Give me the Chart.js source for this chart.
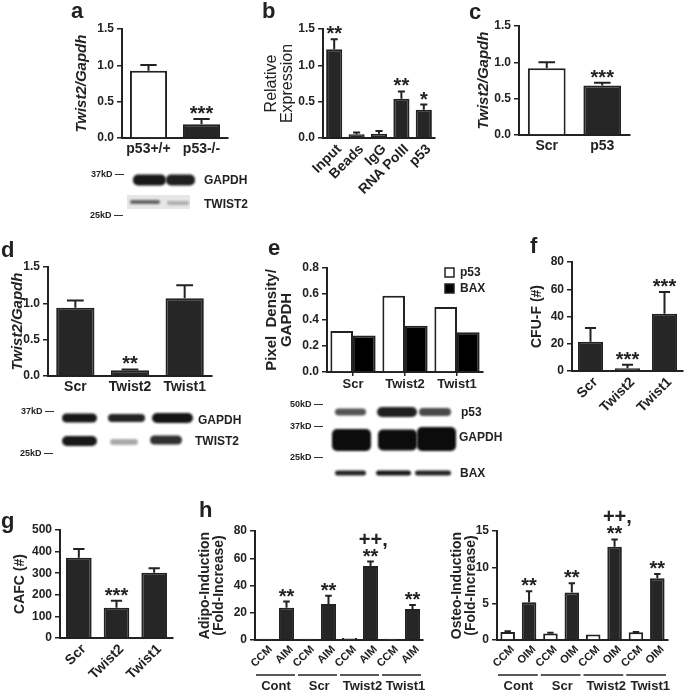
<!DOCTYPE html>
<html>
<head>
<meta charset="utf-8">
<script src="https://cdn.jsdelivr.net/npm/chart.js@4.4.0/dist/chart.umd.min.js"></script>
<style>
  body { margin:0; background:#fff; width:685px; height:692px; overflow:hidden; position:relative;
         font-family:"Liberation Sans", Arial, sans-serif; color:#222; }
  canvas { position:absolute; }
  .pl { position:absolute; font-weight:bold; font-size:22px; line-height:22px; }
  .bl { position:absolute; font-weight:bold; font-size:12px; line-height:12px; white-space:nowrap; }
  .kd { position:absolute; font-weight:bold; font-size:9px; line-height:9px; white-space:nowrap; }
</style>
</head>
<body>
<canvas id="blots" width="685" height="692" style="left:0;top:0"></canvas>
<canvas id="ca"></canvas><canvas id="cb"></canvas><canvas id="cc"></canvas>
<canvas id="cd"></canvas><canvas id="ce"></canvas><canvas id="cf"></canvas>
<canvas id="cg"></canvas><canvas id="ch1"></canvas><canvas id="ch2"></canvas>

<div class="pl" style="left:71px;top:0px">a</div>
<div class="pl" style="left:262px;top:0px">b</div>
<div class="pl" style="left:469px;top:1px">c</div>
<div class="pl" style="left:1px;top:239px">d</div>
<div class="pl" style="left:268px;top:237px">e</div>
<div class="pl" style="left:530px;top:235px">f</div>
<div class="pl" style="left:1px;top:510px">g</div>
<div class="pl" style="left:199px;top:499px">h</div>

<!-- blot labels -->
<div class="kd" style="left:91px;top:170px">37kD —</div>
<div class="kd" style="left:90px;top:211px">25kD —</div>
<div class="bl" style="left:204px;top:174px">GAPDH</div>
<div class="bl" style="left:204px;top:198px">TWIST2</div>

<div class="kd" style="left:21px;top:407px">37kD —</div>
<div class="kd" style="left:20px;top:449px">25kD —</div>
<div class="bl" style="left:198px;top:414px">GAPDH</div>
<div class="bl" style="left:195px;top:435px">TWIST2</div>

<div class="kd" style="left:290px;top:400px">50kD —</div>
<div class="kd" style="left:290px;top:422px">37kD —</div>
<div class="kd" style="left:290px;top:453px">25kD —</div>
<div class="bl" style="left:461px;top:406px">p53</div>
<div class="bl" style="left:459px;top:431px">GAPDH</div>
<div class="bl" style="left:460px;top:467px">BAX</div>

<script>
// ---- data ----
const aCats = ['p53+/+', 'p53-/-'];
const aVals = [0.925, 0.19];
const aErr  = [0.08, 0.07];
const aSig  = ['', '***'];

const bCats = ['Input', 'Beads', 'IgG', 'RNA PolII', 'p53'];
const bVals = [1.22, 0.05, 0.06, 0.54, 0.39];
const bErr  = [0.14, 0.025, 0.035, 0.10, 0.07];
const bSig  = ['**', '', '', '**', '*'];

const cCats = ['Scr', 'p53'];
const cVals = [0.92, 0.68];
const cErr  = [0.08, 0.04];
const cSig  = ['', '***'];

const dCats = ['Scr', 'Twist2', 'Twist1'];
const dVals = [0.94, 0.08, 1.07];
const dErr  = [0.10, 0.01, 0.18];
const dSig  = ['', '**', ''];

const eCats = ['Scr', 'Twist2', 'Twist1'];
const eP53  = [0.315, 0.587, 0.50];
const eBax  = [0.28, 0.356, 0.305];

const fCats = ['Scr', 'Twist2', 'Twist1'];
const fVals = [21.5, 2, 42];
const fErr  = [10, 2.5, 16];
const fSig  = ['', '***', '***'];

const gCats = ['Scr', 'Twist2', 'Twist1'];
const gVals = [372, 140, 302];
const gErr  = [40, 33, 21];
const gSig  = ['', '***', ''];

const hGroups = ['Cont', 'Scr', 'Twist2', 'Twist1'];
const hAdipoCats = ['CCM', 'AIM', 'CCM', 'AIM', 'CCM', 'AIM', 'CCM', 'AIM'];
const hAdipoVals = [1, 23.7, 1, 26.4, 1.5, 54.3, 1, 22.7];
const hAdipoErr  = [0, 4.5, 0, 6, 0, 3.3, 0, 3];
const hAdipoSig  = ['', '**', '', '**', '', ['++,', '**'], '', '**'];

const hOsteoCats = ['CCM', 'OIM', 'CCM', 'OIM', 'CCM', 'OIM', 'CCM', 'OIM'];
const hOsteoVals = [1.1, 5.2, 0.9, 6.55, 0.75, 12.84, 1.05, 8.49];
const hOsteoErr  = [0.1, 1.5, 0.1, 1.25, 0, 1.0, 0.05, 0.6];
const hOsteoSig  = ['', '**', '', '**', '', ['++,', '**'], '', '**'];

// ---- style ----
const FONT = '"Liberation Sans", Arial, sans-serif';
const INK = '#222';
const DARK = '#262626';

// error bars + significance marks
const marks = {
  id: 'marks',
  afterDatasetsDraw(chart) {
    const ctx = chart.ctx, ys = chart.scales.y;
    chart.data.datasets.forEach((ds, di) => {
      const meta = chart.getDatasetMeta(di);
      meta.data.forEach((bar, i) => {
        const v = ds.data[i];
        const e = ds.err ? ds.err[i] : 0;
        const top = ys.getPixelForValue(v + e);
        ctx.save();
        if (e) {
          const cw = bar.width * 0.22;
          ctx.strokeStyle = INK;
          ctx.lineWidth = 2;
          ctx.beginPath();
          ctx.moveTo(bar.x, bar.y);
          ctx.lineTo(bar.x, top);
          ctx.moveTo(bar.x - cw, top);
          ctx.lineTo(bar.x + cw, top);
          ctx.stroke();
        }
        const s = ds.sig ? ds.sig[i] : '';
        if (s) {
          const lines = Array.isArray(s) ? s : [s];
          ctx.font = 'bold 20px ' + FONT;
          ctx.textAlign = 'center';
          ctx.textBaseline = 'alphabetic';
          ctx.fillStyle = INK;
          let y = top + 1;
          for (let k = lines.length - 1; k >= 0; k--) {
            let x = bar.x;
            if (lines[k].endsWith(',')) x += ctx.measureText(',').width / 2;
            ctx.fillText(lines[k], x, y);
            y -= 17;
          }
        }
        ctx.restore();
      });
    });
  }
};

// small box legend inside the plot (panel e)
const boxLegend = {
  id: 'boxLegend',
  afterDraw(chart, args, o) {
    if (!o.show) return;
    const ctx = chart.ctx, a = chart.chartArea;
    chart.data.datasets.forEach((ds, i) => {
      const x = a.right - 38, y = a.top + i * 16;
      ctx.save();
      ctx.fillStyle = ds.backgroundColor;
      ctx.fillRect(x, y, 9, 9);
      ctx.strokeStyle = INK;
      ctx.lineWidth = 1.5;
      ctx.strokeRect(x, y, 9, 9);
      ctx.font = 'bold 12px ' + FONT;
      ctx.textAlign = 'left';
      ctx.textBaseline = 'middle';
      ctx.fillStyle = INK;
      ctx.fillText(ds.label, x + 15, y + 5);
      ctx.restore();
    });
  }
};

// group underline + labels under the paired bars (panel h)
const groupAxis = {
  id: 'groupAxis',
  afterDraw(chart, args, o) {
    if (!o.groups) return;
    const xs = chart.scales.x, ctx = chart.ctx;
    const slot = xs.width / chart.data.labels.length;
    o.groups.forEach((g, i) => {
      const c0 = xs.getPixelForTick(2 * i), c1 = xs.getPixelForTick(2 * i + 1);
      ctx.save();
      ctx.strokeStyle = INK;
      ctx.lineWidth = 1.5;
      ctx.beginPath();
      ctx.moveTo(c0 - slot / 2 + 1, o.lineY);
      ctx.lineTo(c1 + slot / 2 - 2, o.lineY);
      ctx.stroke();
      ctx.font = 'bold 13px ' + FONT;
      ctx.textAlign = 'center';
      ctx.textBaseline = 'alphabetic';
      ctx.fillStyle = INK;
      ctx.fillText(g, (c0 + c1) / 2 + i * 1.2, o.textY);
      ctx.restore();
    });
  }
};

function barChart(id, box, cfg) {
  const cv = document.getElementById(id);
  const pt = 30, pr = 6;
  const L = box.x0 - box.yW, T = box.y0 - pt;
  const W = box.x1 + pr - L, H = box.y1 + box.xH - T;
  cv.style.left = L + 'px';
  cv.style.top = T + 'px';
  cv.style.width = W + 'px';
  cv.style.height = H + 'px';
  cv.width = W;
  cv.height = H;

  const tf = cfg.titleFont;
  const lh = tf.size * tf.lineHeight;
  const rot = cfg.rotate ? 45 : 0;

  const plug = { legend: { display: false }, tooltip: { enabled: false },
                 boxLegend: { show: !!cfg.legend } };
  if (cfg.groups) {
    plug.groupAxis = { groups: cfg.groups, lineY: cfg.groupLineY - T, textY: cfg.groupTextY - T };
  }

  return new Chart(cv, {
    type: 'bar',
    data: { labels: cfg.labels, datasets: cfg.datasets },
    options: {
      responsive: false,
      animation: false,
      devicePixelRatio: 1,
      layout: { padding: { top: pt, right: pr, left: 0, bottom: 0 } },
      plugins: plug,
      scales: {
        x: {
          grid: { display: true, drawOnChartArea: false, drawTicks: !!cfg.xTicks, tickLength: 4,
                  color: INK, lineWidth: 1.5, offset: false },
          border: { display: true, color: INK, width: 2 },
          ticks: {
            font: { family: FONT, size: cfg.xFont || 14, weight: 'bold' },
            color: INK, autoSkip: false, maxRotation: rot, minRotation: rot,
            padding: cfg.xPad != null ? cfg.xPad : 3,
            labelOffset: cfg.rotate ? 5 : 0
          },
          afterFit(s) { s.height = box.xH; }
        },
        y: {
          min: 0, max: cfg.max,
          grid: { display: true, drawOnChartArea: false, drawTicks: true, tickLength: 5,
                  color: INK, lineWidth: 1.5 },
          border: { display: true, color: INK, width: 2 },
          ticks: {
            stepSize: cfg.step, padding: 3, color: INK,
            font: { family: FONT, size: 12, weight: 'bold' },
            callback: v => v.toFixed(cfg.dec || 0)
          },
          title: {
            display: true, text: cfg.title, color: INK, font: tf,
            padding: { top: box.titleX - L - lh / 2, bottom: 0 }
          },
          afterFit(s) { s.width = box.yW; }
        }
      }
    },
    plugins: [marks, boxLegend, groupAxis]
  });
}

function ds(vals, err, sig, colors, extra) {
  return Object.assign({
    data: vals, err: err, sig: sig,
    backgroundColor: colors, borderColor: INK, borderWidth: 2, borderSkipped: 'bottom',
    barPercentage: 0.7, categoryPercentage: 1.0
  }, extra || {});
}

const italicTitle = { family: FONT, size: 15, weight: 'bold', style: 'italic', lineHeight: 1.15 };

// a
barChart('ca', { x0: 122, x1: 228, y0: 29, y1: 138, yW: 55, xH: 30, titleX: 82 }, {
  labels: aCats, max: 1.5, step: 0.5, dec: 1, title: 'Twist2/Gapdh', titleFont: italicTitle,
  datasets: [ds(aVals, aErr, aSig, ['#fff', DARK], { barPercentage: 0.7 })]
});

// b
barChart('cb', { x0: 323, x1: 435, y0: 29, y1: 138, yW: 60, xH: 75, titleX: 272 }, {
  labels: bCats, max: 1.5, step: 0.5, dec: 1, rotate: true, xFont: 14,
  title: ['Relative', 'Expression'],
  titleFont: { family: FONT, size: 16, weight: 'normal', lineHeight: 1.0 },
  datasets: [ds(bVals, bErr, bSig, DARK, { barPercentage: 0.72 })]
});

// c
barChart('cc', { x0: 519, x1: 630, y0: 26, y1: 135, yW: 45, xH: 30, titleX: 484 }, {
  labels: cCats, max: 1.5, step: 0.5, dec: 1, title: 'Twist2/Gapdh', titleFont: italicTitle,
  datasets: [ds(cVals, cErr, cSig, ['#fff', DARK], { barPercentage: 0.68 })]
});

// d
barChart('cd', { x0: 48, x1: 212, y0: 267, y1: 376, yW: 44, xH: 30, titleX: 18 }, {
  labels: dCats, max: 1.5, step: 0.5, dec: 1, title: 'Twist2/Gapdh', titleFont: italicTitle,
  datasets: [ds(dVals, dErr, dSig, DARK, { barPercentage: 0.7 })]
});

// e
barChart('ce', { x0: 327, x1: 483, y0: 268, y1: 372, yW: 72, xH: 25, titleX: 272 }, {
  labels: eCats, max: 0.8, step: 0.2, dec: 1, xTicks: true, xFont: 13, xPad: 1, legend: true,
  title: ['Pixel  Density/', 'GAPDH'],
  titleFont: { family: FONT, size: 15, weight: 'bold', lineHeight: 1.0 },
  datasets: [
    ds(eP53, null, null, '#fff', { label: 'p53', barPercentage: 1.0, categoryPercentage: 0.87 }),
    ds(eBax, null, null, '#000', { label: 'BAX', barPercentage: 1.0, categoryPercentage: 0.87 })
  ]
});

// f
barChart('cf', { x0: 572, x1: 683, y0: 262, y1: 371, yW: 45, xH: 60, titleX: 537 }, {
  labels: fCats, max: 80, step: 20, rotate: true, xFont: 14, title: 'CFU-F (#)',
  titleFont: { family: FONT, size: 14, weight: 'bold', lineHeight: 1.15 },
  datasets: [ds(fVals, fErr, fSig, DARK, { barPercentage: 0.68 })]
});

// g
barChart('cg', { x0: 60, x1: 173, y0: 530, y1: 638, yW: 50, xH: 54, titleX: 20 }, {
  labels: gCats, max: 500, step: 100, rotate: true, xFont: 14, title: 'CAFC (#)',
  titleFont: { family: FONT, size: 14, weight: 'bold', lineHeight: 1.15 },
  datasets: [ds(gVals, gErr, gSig, DARK, { barPercentage: 0.68 })]
});

// h (adipo)
barChart('ch1', { x0: 255, x1: 423, y0: 531, y1: 640, yW: 58, xH: 52, titleX: 205 }, {
  labels: hAdipoCats, max: 80, step: 20, rotate: true, xFont: 11,
  title: ['Adipo-Induction', '(Fold-Increase)'],
  titleFont: { family: FONT, size: 14, weight: 'bold', lineHeight: 1.0 },
  groups: hGroups, groupLineY: 675, groupTextY: 690,
  datasets: [ds(hAdipoVals, hAdipoErr, hAdipoSig,
                hAdipoCats.map(c => c === 'CCM' ? '#fff' : DARK), { barPercentage: 0.72 })]
});

// h (osteo)
barChart('ch2', { x0: 497, x1: 668, y0: 531, y1: 640, yW: 50, xH: 52, titleX: 457 }, {
  labels: hOsteoCats, max: 15, step: 5, rotate: true, xFont: 11,
  title: ['Osteo-Induction', '(Fold-Increase)'],
  titleFont: { family: FONT, size: 14, weight: 'bold', lineHeight: 1.0 },
  groups: hGroups, groupLineY: 675, groupTextY: 690,
  datasets: [ds(hOsteoVals, hOsteoErr, hOsteoSig,
                hOsteoCats.map(c => c === 'CCM' ? '#fff' : DARK), { barPercentage: 0.68 })]
});

// ---- western blot images (decoration, not chart data) ----
(function drawBlots() {
  const ctx = document.getElementById('blots').getContext('2d');
  function band(x0, x1, yc, h, dark) {
    ctx.save();
    ctx.filter = 'blur(1.3px)';
    ctx.fillStyle = 'rgba(12,12,12,' + dark + ')';
    ctx.beginPath();
    ctx.roundRect(x0, yc - h / 2, x1 - x0, h, Math.min(h / 2, 5));
    ctx.fill();
    ctx.restore();
  }
  // a
  ctx.fillStyle = '#e6e6e6';
  ctx.fillRect(127, 195, 63, 14);
  band(133, 166, 180, 11, 0.95);
  band(166, 195, 180, 11, 0.92);
  band(130, 160, 202, 4, 0.6);
  band(167, 189, 203, 4, 0.25);
  // d
  band(62, 97, 418, 9, 0.95);
  band(108, 145, 418, 8, 0.9);
  band(152, 193, 418, 10, 0.97);
  band(62, 97, 441, 10, 0.95);
  band(110, 138, 442, 6, 0.35);
  band(150, 182, 440, 9, 0.85);
  // e
  band(335, 366, 412, 7, 0.7);
  band(377, 417, 412, 10, 0.92);
  band(419, 451, 412, 8, 0.75);
  band(332, 371, 440, 22, 1);
  band(378, 417, 440, 21, 1);
  band(417, 456, 439, 24, 1);
  band(335, 366, 473, 5, 0.9);
  band(376, 411, 473, 5, 0.95);
  band(415, 451, 473, 5, 0.9);
})();
</script>
</body>
</html>
